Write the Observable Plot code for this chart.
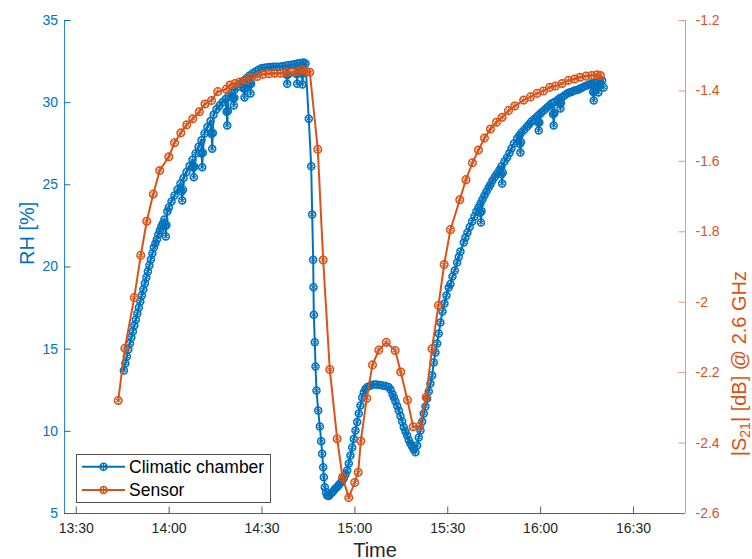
<!DOCTYPE html>
<html>
<head>
<meta charset="utf-8">
<script src="https://cdn.jsdelivr.net/npm/d3@7"></script>
<script src="https://cdn.jsdelivr.net/npm/@observablehq/plot@0.6"></script>
<style>
  body { margin: 0; background: #fff; }
  #wrap { position: relative; width: 752px; height: 559px; font-family: "Liberation Sans", Arial, Helvetica, sans-serif; }
  #legend { position: absolute; left: 76px; top: 454px; }
</style>
</head>
<body>
<div id="wrap"></div>
<script>
// ---- Data (time in minutes after 13:30) ----
// Climatic chamber, main trace
const chamberMin = [15.37,15.86,16.34,16.82,17.31,17.79,18.28,18.76,19.25,19.73,20.22,20.70,21.18,21.67,22.15,22.64,23.12,23.61,24.09,24.58,25.06,25.54,26.03,26.51,27.00,27.48,27.97,28.45,29.42,29.90,30.77,31.74,32.71,33.68,34.65,35.62,36.59,37.56,38.53,39.49,40.46,41.43,42.40,43.37,44.34,45.31,46.28,47.24,48.21,49.18,50.15,51.12,52.09,53.06,54.03,55.00,55.96,56.93,57.90,58.87,59.84,60.81,61.78,62.75,63.71,64.68,65.65,66.62,67.59,68.56,69.53,70.49,71.46,72.43,73.40,74.05,
  75.11,75.89,76.21,76.53,76.63,76.73,77.05,77.28,77.60,78.15,78.67,79.12,79.44,79.76,79.96,80.28,80.67,81.05,81.57,82.12,82.67,83.19,83.74,84.28,84.80,85.35,85.90,86.42,86.96,87.51,88.03,88.58,89.13,89.65,90.19,90.74,91.26,91.81,92.36,92.87,93.42,94.07,95.04,96.01,96.98,97.95,98.91,99.88,100.85,101.50,102.14,102.56,103.11,103.66,104.18,104.73,105.28,105.79,106.34,106.89,107.41,107.96,108.50,109.02,109.57,110.12,110.64,111.19,111.73,112.25,112.80,113.35,113.87,114.41,114.96,115.48,116.03,116.58,117.09,117.64,118.29,118.94,119.58,120.32,120.87,121.52,122.26,123.04,123.55,124.10,125.17,125.72,126.36,127.10,127.88,128.62,129.27,129.92,130.56,131.21,131.85,132.50,133.24,133.79,134.44,135.18,135.95,136.70,137.34,138.31,139.18,139.93,140.57,141.38,142.41,143.15,143.80,144.77,145.64,146.38,147.03,148.00,148.87,149.62,150.26,151.23,152.10,152.84,153.49,154.46,155.33,156.07,156.72,157.69,158.56,159.30,159.94,160.91,161.78,162.53,163.17,164.14,165.01,165.76,166.40,167.37,168.25,169.15,169.86,170.38];
const chamberRH = [13.70,14.13,14.55,14.98,15.34,15.71,16.07,16.44,16.80,17.17,17.53,17.90,18.27,18.63,19.00,19.36,19.73,20.09,20.46,20.82,21.19,21.43,21.67,21.98,22.22,22.46,22.65,22.89,23.38,23.62,23.99,24.35,24.72,25.08,25.42,25.78,26.15,26.52,26.91,27.31,27.72,28.13,28.52,28.89,29.27,29.60,29.82,30.03,30.21,30.40,30.59,30.78,30.97,31.15,31.33,31.49,31.65,31.78,31.89,32.00,32.09,32.12,32.15,32.17,32.18,32.19,32.19,32.22,32.24,32.27,32.30,32.34,32.38,32.41,32.44,32.38,
  29.02,26.13,23.19,20.44,18.77,17.09,15.42,13.94,12.48,11.27,10.29,9.40,8.63,7.82,7.21,6.60,6.28,6.09,6.06,6.19,6.28,6.40,6.52,6.61,6.73,6.86,6.98,7.16,7.37,7.62,8.04,8.53,9.02,9.53,10.05,10.57,11.08,11.57,12.06,12.36,12.58,12.70,12.79,12.85,12.85,12.82,12.79,12.76,12.70,12.54,12.27,12.08,11.81,11.54,11.27,10.93,10.60,10.25,9.99,9.75,9.47,9.24,9.08,8.89,8.73,9.14,9.62,10.05,10.60,11.08,11.51,12.00,12.42,12.91,13.40,14.19,14.80,15.34,15.95,16.62,17.29,17.78,18.27,18.75,18.96,19.42,19.79,20.27,20.61,20.94,21.49,21.79,22.10,22.43,22.77,23.07,23.38,23.62,23.86,24.11,24.35,24.59,24.84,25.02,25.26,25.48,25.69,25.90,26.12,26.42,26.66,26.94,27.21,27.51,27.82,28.00,28.18,28.37,28.55,28.70,28.85,29.01,29.16,29.28,29.40,29.55,29.71,29.83,29.95,30.04,30.13,30.25,30.31,30.44,30.56,30.62,30.65,30.74,30.77,30.83,30.89,30.98,31.04,31.11,31.17,31.23,31.26,31.32,31.35,30.92];
// Climatic chamber, short humidity dips
const chamberDipMin = [28.73,28.93,29.13, 34.03,34.23,34.43, 37.78,37.98,38.18, 40.49,40.69,40.89, 43.72,43.92,44.12, 48.56,48.76,48.96, 50.69,50.89,51.09, 54.15,54.35,54.55, 56.09,56.29,56.49, 67.94,68.14,68.34, 71.17,71.37,71.57, 72.88,73.08,73.28,
  130.52,130.72,130.92, 137.37,137.57,137.77, 143.28,143.48,143.68, 149.19,149.39,149.59, 154.03,154.23,154.43, 156.20,156.40,156.60, 166.95,167.15,167.35, 168.47,168.67,168.87];
const chamberDipRH = [22.50,21.86,22.55, 24.60,24.05,24.70, 26.05,25.46,26.10, 26.90,26.07,26.95, 28.10,27.19,28.15, 29.45,28.61,29.50, 30.25,29.83,30.30, 30.85,30.31,30.90, 31.10,30.56,31.15, 31.70,31.15,31.70, 31.75,31.15,31.80, 31.75,31.11,31.80,
  23.30,22.71,23.40, 25.65,25.08,25.75, 27.50,26.97,27.60, 28.80,28.31,28.80, 29.30,28.61,29.35, 29.95,29.64,30.00, 30.65,30.13,30.70, 30.95,30.62,31.00];

// Sensor
const sensorMin = [13.56,15.69,18.73,20.83,22.77,24.87,26.96,29.90,31.74,33.78,35.68,37.62,39.75,41.59,43.69,45.69,48.47,49.67,51.28,52.83,54.67,56.51,58.45,60.26,62.20,64.04,65.98,67.82,69.75,71.56,72.98,74.37,75.44,78.02,79.76,81.89,84.28,86.00,88.03,89.94,91.07,91.91,93.84,95.68,97.72,100.14,103.01,104.82,106.99,108.83,110.96,113.03,114.90,117.00,118.84,120.87,123.88,125.88,127.98,129.92,131.85,133.79,135.73,137.57,139.60,141.64,144.54,146.71,148.87,150.90,152.94,154.78,156.94,158.98,160.98,162.76,164.63,166.47,168.24,169.31];
const sensorS21 = [-2.279,-2.131,-1.987,-1.867,-1.770,-1.693,-1.626,-1.587,-1.547,-1.519,-1.496,-1.479,-1.459,-1.437,-1.427,-1.402,-1.395,-1.383,-1.379,-1.375,-1.368,-1.363,-1.359,-1.353,-1.351,-1.350,-1.350,-1.347,-1.347,-1.345,-1.340,-1.345,-1.347,-1.566,-1.880,-2.191,-2.388,-2.497,-2.555,-2.512,-2.483,-2.394,-2.273,-2.178,-2.136,-2.114,-2.137,-2.198,-2.278,-2.354,-2.352,-2.270,-2.132,-2.009,-1.893,-1.794,-1.709,-1.652,-1.604,-1.568,-1.534,-1.508,-1.489,-1.475,-1.456,-1.443,-1.426,-1.417,-1.407,-1.400,-1.390,-1.386,-1.379,-1.370,-1.366,-1.361,-1.358,-1.356,-1.354,-1.356];

const xLim = [-3.8, 196.8];
const xTicks = [0, 30, 60, 90, 120, 150, 180];
const xTickLabels = ["13:30", "14:00", "14:30", "15:00", "15:30", "16:00", "16:30"];
const rhLim = [5, 35];
const rhTicks = [5, 10, 15, 20, 25, 30, 35];
const s21Lim = [-2.6, -1.2];
const s21Ticks = [-2.6, -2.4, -2.2, -2, -1.8, -1.6, -1.4, -1.2];
const s21TickLabels = ["-2.6", "-2.4", "-2.2", "-2", "-1.8", "-1.6", "-1.4", "-1.2"];
const seriesNames = ["Climatic chamber", "Sensor"];

// ---- Build tables ----
const BLUE = "#0072BD", ORANGE = "#D95319", AXIS = "#262626";
const rhOf = s => rhLim[0] + (s - s21Lim[0]) / (s21Lim[1] - s21Lim[0]) * (rhLim[1] - rhLim[0]);
const chamber = chamberMin.map((t, i) => ({t, v: chamberRH[i]}))
  .concat(chamberDipMin.map((t, i) => ({t, v: chamberDipRH[i]})))
  .sort((a, b) => a.t - b.t);
const sensor = sensorMin.map((t, i) => ({t, v: rhOf(sensorS21[i])}));

const W = 752, H = 559, ML = 64, MR = 67, MT = 20, MB = 46;
const frameW = W - ML - MR, frameH = H - MT - MB;
const TL = 6.5;

const seriesMarks = (data, color, r) => [
  Plot.line(data, {x: "t", y: "v", stroke: color, strokeWidth: 2}),
  Plot.dot(data, {x: "t", y: "v", r, stroke: color, strokeWidth: 1.5, fill: "none"}),
  Plot.dot(data, {x: "t", y: "v", symbol: "asterisk", r: r - 0.3, stroke: color, strokeWidth: 1})
];

const chart = Plot.plot({
  width: W, height: H,
  marginLeft: ML, marginRight: MR, marginTop: MT, marginBottom: MB,
  x: {domain: xLim, axis: null},
  y: {domain: rhLim, axis: null},
  style: {fontFamily: '"Liberation Sans", Arial, Helvetica, sans-serif', fontSize: "14px", background: "#fff", overflow: "visible"},
  marks: [
    ...seriesMarks(chamber, BLUE, 3.5),
    ...seriesMarks(sensor, ORANGE, 3.8),
    // axis lines
    Plot.ruleY([rhLim[0]], {stroke: AXIS, strokeOpacity: 0.75}),
    Plot.ruleX([xLim[0]], {stroke: BLUE, strokeOpacity: 0.85}),
    Plot.ruleX([xLim[1]], {stroke: ORANGE, strokeOpacity: 0.6}),
    // ticks (inside)
    Plot.tickX(xTicks, {x: d => d, stroke: AXIS, strokeOpacity: 0.75, insetTop: frameH - TL}),
    Plot.tickY(rhTicks, {y: d => d, stroke: BLUE, insetRight: frameW - TL}),
    Plot.tickY(s21Ticks.map(rhOf), {y: d => d, stroke: ORANGE, strokeOpacity: 0.6, insetLeft: frameW - TL}),
    // tick labels
    Plot.text(xTicks, {x: d => d, frameAnchor: "bottom", dy: 15, text: (d, i) => xTickLabels[i], fill: AXIS, fontSize: 14, lineAnchor: "middle"}),
    Plot.text(rhTicks, {y: d => d, frameAnchor: "left", dx: -6.5, textAnchor: "end", text: d => String(d), fill: BLUE, fontSize: 14, lineAnchor: "middle"}),
    Plot.text(s21Ticks, {y: d => rhOf(d), frameAnchor: "right", dx: 10, textAnchor: "start", text: (d, i) => s21TickLabels[i], fill: ORANGE, fontSize: 14, lineAnchor: "middle"}),
    // axis titles
    Plot.text(["Time"], {frameAnchor: "bottom", dy: 43, lineAnchor: "bottom", text: d => d, fontSize: 20, fill: AXIS}),
    Plot.text(["RH [%]"], {frameAnchor: "left", dx: -37, dy: -2, rotate: -90, lineAnchor: "middle", text: d => d, fontSize: 20, fill: BLUE}),
    Plot.text(["|S21| [dB] @ 2.6 GHz"], {frameAnchor: "right", dx: 54, dy: 4, rotate: -90, lineAnchor: "middle", text: d => d, fontSize: 20, fill: ORANGE})
  ]
});

// subscript for S21
d3.select(chart).selectAll("text").each(function() {
  if (this.textContent === "|S21| [dB] @ 2.6 GHz") {
    const t = d3.select(this);
    t.text(null);
    t.append("tspan").text("|S");
    t.append("tspan").attr("dy", "0.3em").attr("font-size", "0.7em").text("21");
    t.append("tspan").attr("dy", "-0.21em").text("| [dB] @ 2.6 GHz");
  }
});

const wrap = document.getElementById("wrap");
wrap.appendChild(chart);

// legend overlay
const lg = d3.select(wrap).append("svg").attr("id", "legend")
  .attr("width", 196).attr("height", 50);
lg.append("rect").attr("x", 0.5).attr("y", 0.5).attr("width", 194).attr("height", 48)
  .attr("fill", "#fff").attr("stroke", AXIS).attr("stroke-opacity", 0.8);
const colors = [BLUE, ORANGE];
seriesNames.forEach((name, i) => {
  const y = 12.7 + i * 23.3;
  const g = lg.append("g");
  g.append("line").attr("x1", 6).attr("x2", 49).attr("y1", y).attr("y2", y)
    .attr("stroke", colors[i]).attr("stroke-width", 2);
  g.append("circle").attr("cx", 27.5).attr("cy", y).attr("r", 3.5)
    .attr("fill", "none").attr("stroke", colors[i]).attr("stroke-width", 1.5);
  g.append("path").attr("transform", `translate(27.5,${y})`)
    .attr("d", d3.symbol(d3.symbolAsterisk, 36)())
    .attr("stroke", colors[i]).attr("stroke-width", 1).attr("fill", "none");
  g.append("text").attr("x", 53).attr("y", y).attr("dy", "0.35em")
    .attr("font-size", "17.5px").attr("fill", "#000").text(name);
});
</script>
</body>
</html>
